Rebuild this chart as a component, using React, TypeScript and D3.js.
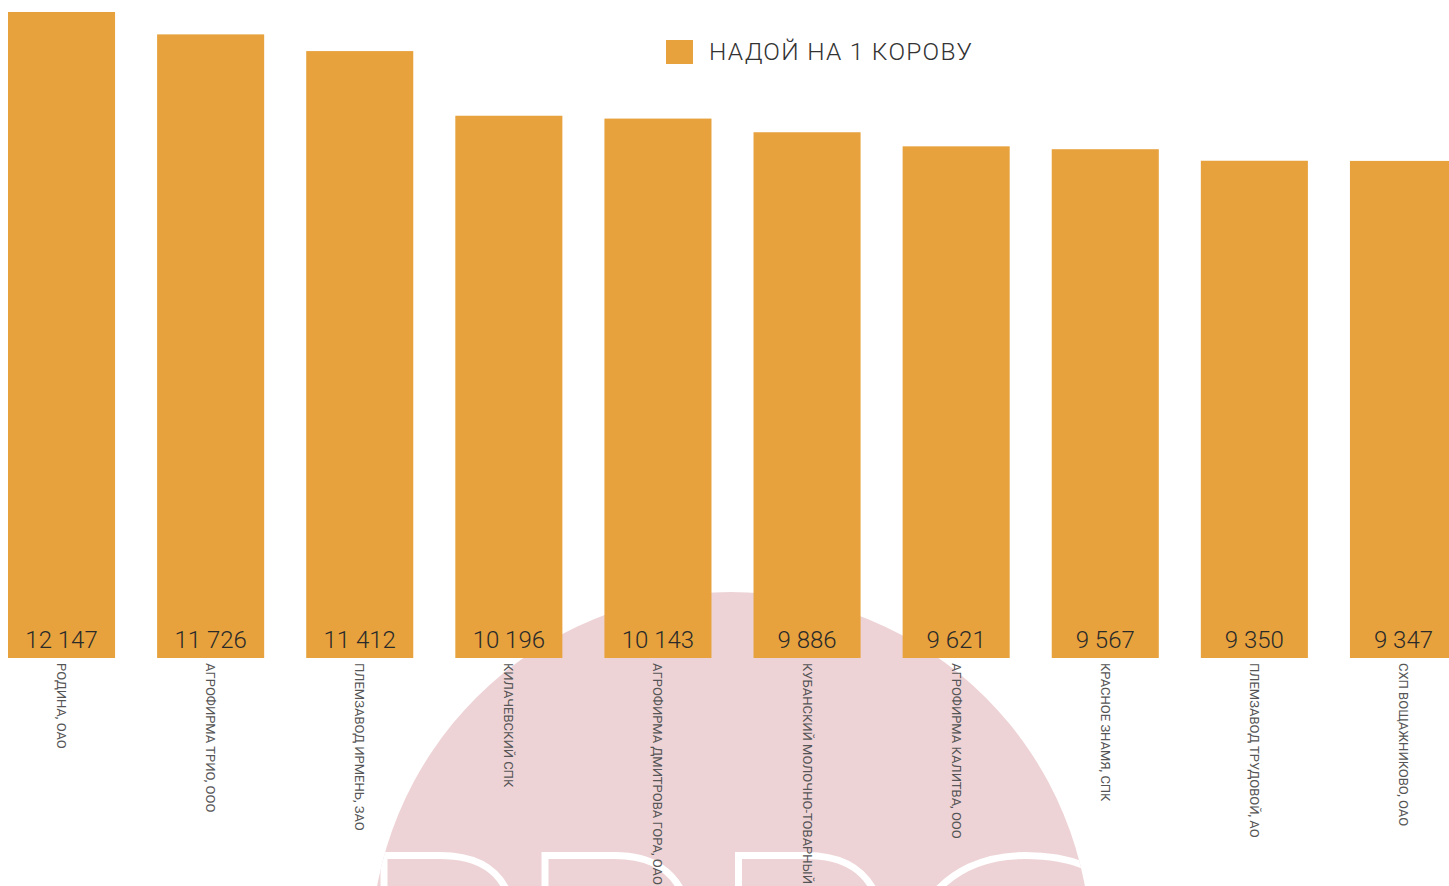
import React from "react";
import * as d3 from "d3";

const categories: string[] = [
  "РОДИНА, ОАО",
  "АГРОФИРМА ТРИО, ООО",
  "ПЛЕМЗАВОД ИРМЕНЬ, ЗАО",
  "КИЛАЧЕВСКИЙ СПК",
  "АГРОФИРМА ДМИТРОВА ГОРА, ОАО",
  "КУБАНСКИЙ МОЛОЧНО-ТОВАРНЫЙ",
  "АГРОФИРМА КАЛИТВА, ООО",
  "КРАСНОЕ ЗНАМЯ, СПК",
  "ПЛЕМЗАВОД ТРУДОВОЙ, АО",
  "СХП ВОЩАЖНИКОВО, ОАО",
];
const yields: number[] = [12147, 11726, 11412, 10196, 10143, 9886, 9621, 9567, 9350, 9347];
const seriesName = "НАДОЙ НА 1 КОРОВУ";

const W = 1449;
const H = 886;
const BAR = "#E7A23D";
const PINK = "#EED3D6";

export default function App() {
  const x = d3
    .scaleBand<string>()
    .domain(categories)
    .range([8, 1457])
    .paddingInner(0.282)
    .paddingOuter(0);
  const y = d3.scaleLinear().domain([0, 12147]).range([658, 12]);
  const fmt = (v: number) => d3.format(",")(v).replace(/,/g, " ");

  const circle = { cx: 731, cy: 952, r: 360 };

  return (
    <svg
      width={W}
      height={H}
      style={{ position: "fixed", left: 0, top: 0, display: "block" }}
      fontFamily="Roboto, 'Helvetica Neue', Arial, sans-serif"
    >
      <defs>
        <clipPath id="circ">
          <circle cx={circle.cx} cy={circle.cy} r={circle.r} />
        </clipPath>
      </defs>
      <rect x={0} y={0} width={W} height={H} fill="#fff" />
      {/* watermark */}
      <circle cx={circle.cx} cy={circle.cy} r={circle.r} fill={PINK} />
      <g clipPath="url(#circ)" fill="none" stroke="#fff" strokeWidth={7}>
        <path d="M 384 905 V 855.5 H 440 C 478 855.5, 503 870, 512 905" />
        <path d="M 545 905 V 855.5 H 615 C 650 855.5, 677 870, 687 905" />
        <path d="M 738.5 905 V 855.5 H 806 C 844 855.5, 869 870, 880 905" />
        <path d="M 922 910 C 948 868, 988 855.5, 1025 855.5 C 1055 855.5, 1080 861, 1100 874" />
      </g>
      {/* bars */}
      <g>
        {categories.map((c, i) => (
          <rect
            key={c}
            x={x(c)}
            y={y(yields[i])}
            width={x.bandwidth()}
            height={y(0) - y(yields[i])}
            fill={BAR}
          />
        ))}
      </g>
      {/* value labels */}
      <g fontSize={24} fontWeight={300} fill="#2a2a2a" textAnchor="middle">
        {categories.map((c, i) => (
          <text key={c} x={(x(c) as number) + x.bandwidth() / 2} y={648}>
            {fmt(yields[i])}
          </text>
        ))}
      </g>
      {/* category labels */}
      <g fontSize={13} fontWeight={400} fill="#555">
        {categories.map((c) => {
          const cx = (x(c) as number) + x.bandwidth() / 2;
          return (
            <text key={c} transform={`translate(${cx - 4.5},663) rotate(90)`}>
              {c}
            </text>
          );
        })}
      </g>
      {/* legend */}
      <rect x={666} y={40} width={27} height={24} fill={BAR} />
      <text
        x={709}
        y={60}
        fontSize={24.5}
        fontWeight={300}
        fill="#333"
        textLength={263}
        lengthAdjust="spacing"
      >
        {seriesName}
      </text>
    </svg>
  );
}
